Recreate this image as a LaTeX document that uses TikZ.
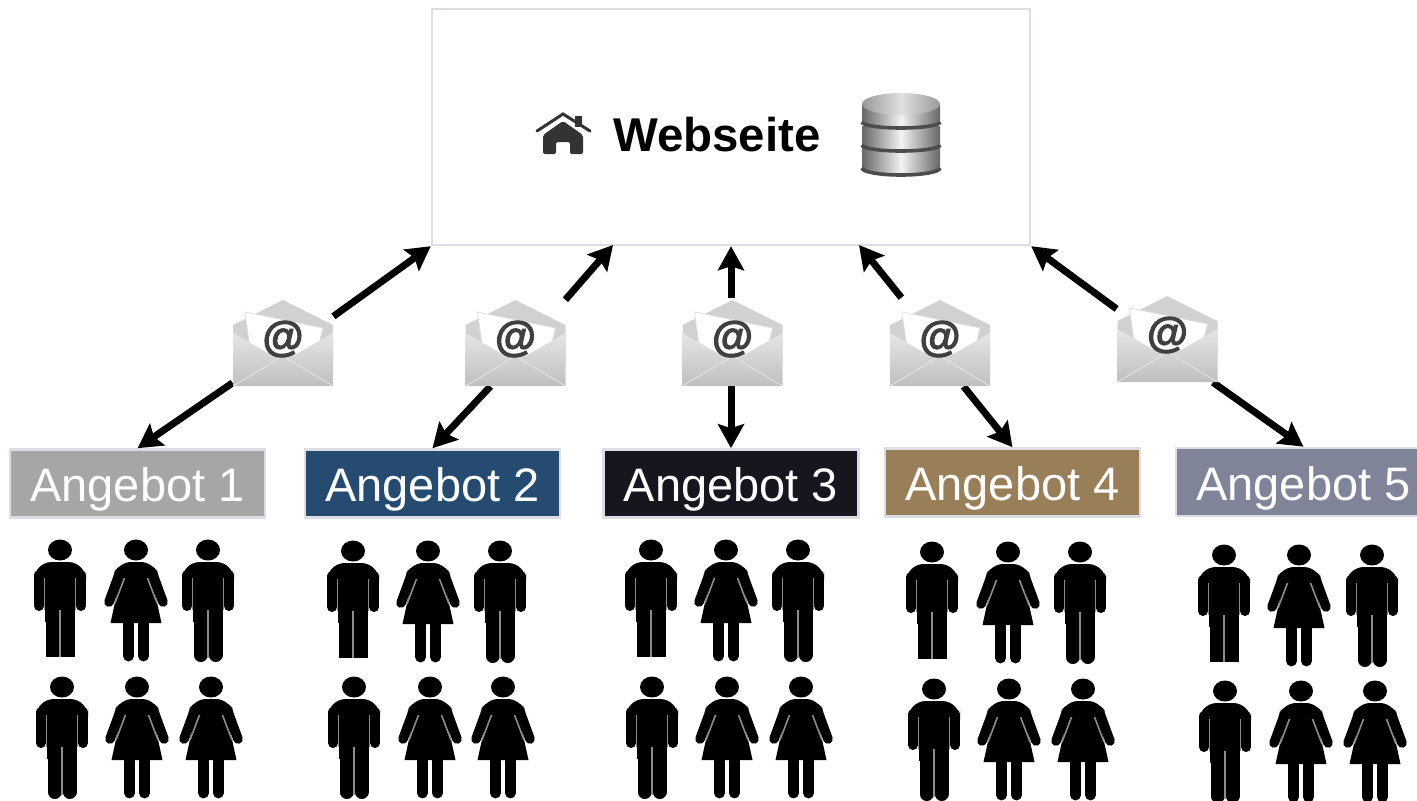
\documentclass[tikz,border=0pt]{standalone}
\usepackage{fontspec}
\setmainfont{Liberation Sans}
\newfontface\atfont[FakeBold=2.5]{Liberation Sans Bold}
\usetikzlibrary{arrows.meta}
\definecolor{rimgray}{HTML}{DDDDE6}
\definecolor{offer1}{HTML}{A6A6A6}
\definecolor{offer2}{HTML}{264B70}
\definecolor{offer3}{HTML}{16161E}
\definecolor{offer4}{HTML}{987F58}
\definecolor{offer5}{HTML}{7F8498}
\tikzstyle{website}=[draw=rimgray, line width=1.2pt, fill=white, minimum width=299pt, minimum height=118pt, inner sep=0pt]
\tikzstyle{offer}=[draw=rimgray, line width=1.3pt, text=white, minimum width=127.5pt, minimum height=34pt, inner sep=0pt, text height=18pt, text depth=0pt, font=\fontsize{23.5}{26}\selectfont]
\tikzstyle{mailbox}=[fill=white, minimum width=50pt, minimum height=44pt, inner sep=0pt]
\tikzstyle{link}=[line width=3.5pt, -{Stealth[length=12pt,width=13pt,inset=2pt]}]
\tikzstyle{gap}=[draw=black!45, line width=.8pt]
\tikzstyle{limb}=[line width=5pt, line cap=round]
\tikzstyle{leg}=[line width=7pt, line cap=round]
% figures: origin is the centre of the head
\newcommand{\manbody}{
\fill (0,0) ellipse (12 and 10.5);
\fill[rounded corners=9pt] (-26,12) -- (26,12) -- (26,40) -- (-26,40) -- cycle;
\fill (-15,20) rectangle (15,72);
\draw[limb] (-21,25) -- (-21,56);
\draw[limb] (21,25) -- (21,56);
}
\newcommand{\man}[1]{\begin{scope}[shift={(#1)}]
\manbody
\draw[leg] (-7.5,65) -- (-7.5,105);
\draw[leg] (7.5,65) -- (7.5,105);
\draw[gap] (-15.5,28) -- (-15.5,60) (15.5,28) -- (15.5,60) (0,60) -- (0,108);
\end{scope}}
\newcommand{\cutman}[1]{\begin{scope}[shift={(#1)}]
\manbody
\fill (-14.5,65) rectangle (14.5,107);
\draw[gap] (-15.5,28) -- (-15.5,60) (15.5,28) -- (15.5,60) (0,60) -- (0,107);
\end{scope}}
\newcommand{\woman}[1]{\begin{scope}[shift={(#1)}]
\fill (0,0) ellipse (12 and 10.5);
\fill[rounded corners=7pt] (-19,12) -- (19,12) -- (24,32) -- (-24,32) -- cycle;
\fill (-15,25) -- (15,25) -- (25.5,73) -- (-25.5,73) -- cycle;
\draw[line width=4.8pt, line cap=round] (-16,22) -- (-27,52);
\draw[line width=4.8pt, line cap=round] (16,22) -- (27,52);
\draw[line width=5.4pt, line cap=round] (-7.5,70) -- (-7.5,106);
\draw[line width=5.4pt, line cap=round] (7.5,70) -- (7.5,106);
\draw[gap] (-11.5,28) -- (-21,53) (11.5,28) -- (21,53);
\end{scope}}
% envelope drawn over its mailbox node
\newcommand{\envelope}[1]{\begin{scope}[shift={(#1)}]
\fill[black!18] (-50,-17) -- (0,-42) -- (50,-17) -- (50,20) -- (-50,20) -- cycle;
\fill[white, draw=black!12] (-38,-30) -- (40,-14) -- (33,14) -- (-32,14) -- cycle;
\shade[top color=black!10, bottom color=black!25] (-50,-9) -- (-3,18) -- (3,18) -- (50,-9) -- (50,44) -- (-50,44) -- cycle;
\draw[black!10] (-50,44) -- (-3,16) (50,44) -- (3,16);
\node[font=\atfont\fontsize{21}{22}\selectfont, text=black!75] at (0,-3) {@};
\end{scope}}
% one disc of the database
\newcommand{\disc}[3]{
\shade[left color=black!60, right color=black!60, middle color=black!5] (-39,#1) -- (39,#1) -- (39,#2) arc (0:180:39 and #3) -- cycle;
\draw[black!70, line width=1.8pt] (39,#2) arc (0:180:39 and #3);
}
\begin{document}
\begin{tikzpicture}[x=.5pt, y=-.5pt]
\useasboundingbox (0,0) rectangle (1417,800);
\node[website] (web) at (731,127) {};
\coordinate (w2) at (613,245);
\coordinate (w4) at (859,245);
% offers
\node[offer, fill=offer1] (a1) at (137.5,483.5) {Angebot 1};
\node[offer, fill=offer2] (a2) at (432.5,483.5) {Angebot 2};
\node[offer, fill=offer3] (a3) at (731,483.5) {Angebot 3};
\node[offer, fill=offer4] (a4) at (1012.5,482.5) {Angebot 4};
\node[offer, fill=offer5] (a5) at (1303.5,482) {Angebot 5};
% mail
\node[mailbox] (e1) at (283,342) {};
\node[mailbox] (e2) at (515,342) {};
\node[mailbox] (e3) at (731,342) {};
\node[mailbox] (e4) at (940,342) {};
\node[mailbox] (e5) at (1167,338) {};
\draw[link] (e1.27) -- (web.south west);
\draw[link] (e1.219) -- (a1.north);
\draw[link] (e2.40) -- (w2);
\draw[link] (e2.241) -- (a2.north);
\draw[link] (e3.north) -- (web.south);
\draw[link] (e3.south) -- (a3.north);
\draw[link] (e4.131) -- (w4);
\draw[link] (e4.-62) -- (a4.north);
\draw[link] (e5.150) -- (web.south east);
\draw[link] (e5.-44) -- (a5.north);
\envelope{283,342}
\envelope{515.5,342}
\envelope{732.5,342}
\envelope{940,342}
\envelope{1167.5,338}
% inside the website box
\node[font=\bfseries\fontsize{23.7}{26}\selectfont] (title) at (717,135) {Webseite};
\draw[black!80, line width=1.5pt, line cap=round] (537,131) -- (563,114) -- (590,131);
\fill[black!80] (575,116) rectangle (582,127);
\fill[black!80, rounded corners=1pt] (543,135) -- (563,121) -- (583,135) -- (583,154) -- (570,154) -- (570,142) -- (556,142) -- (556,154) -- (543,154) -- cycle;
\begin{scope}[shift={(901,0)}]
\disc{148}{168}{7}
\disc{126}{145}{6}
\disc{104}{122}{6}
\shade[left color=black!40, right color=black!40, middle color=black!12] (0,104) ellipse (39 and 11);
\end{scope}
% people
\foreach \xa/\xb/\xc/\ya in {60/136/208/550,353/428/500/551,651/726/798/550,932/1008/1080/552,1224/1299/1372/555}{
  \cutman{\xa,\ya}
  \woman{\xb,\ya}
  \man{\xc,\ya}
}
\foreach \xa/\xb/\xc/\ya in {62/137/211/687,354/430/503/687,652/727/801/687,934/1009/1083/689,1225/1301/1375/691}{
  \man{\xa,\ya}
  \woman{\xb,\ya}
  \woman{\xc,\ya}
}
\end{tikzpicture}
\end{document}
